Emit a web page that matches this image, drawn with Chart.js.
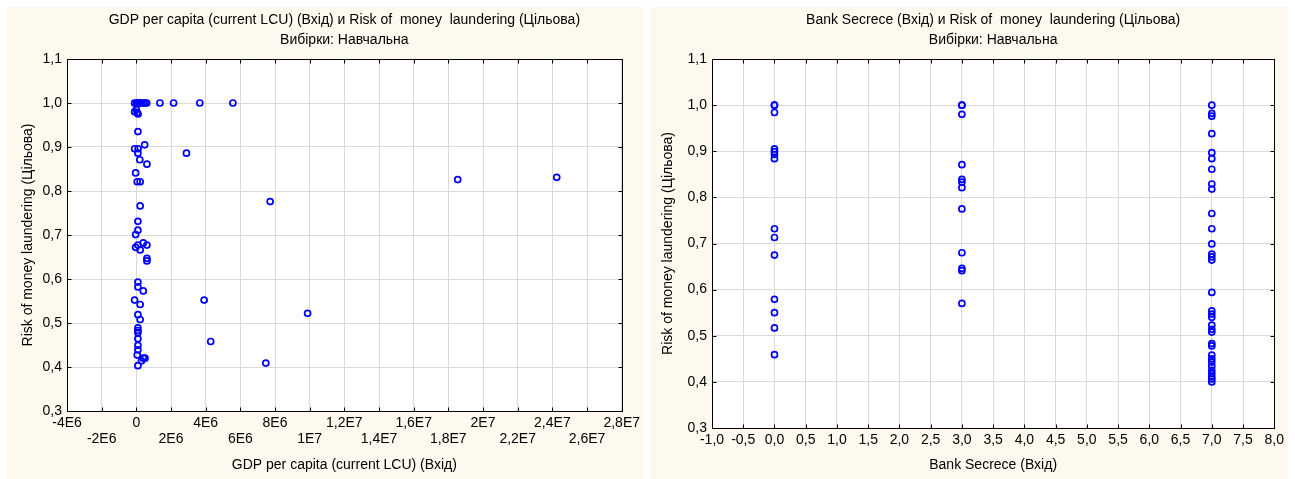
<!DOCTYPE html>
<html>
<head>
<meta charset="utf-8">
<script src="https://cdn.jsdelivr.net/npm/chart.js@4.4.1/dist/chart.umd.min.js"></script>
<style>
  body { margin: 0; width: 1295px; height: 479px; background: #fff; position: relative; overflow: hidden; }
  .panel { position: absolute; top: 7px; width: 637px; height: 472px; background: #fdf9ee; }
</style>
</head>
<body>
<div class="panel" style="left:7px"><canvas id="gdpChart" width="637" height="472"></canvas></div>
<div class="panel" style="left:651px"><canvas id="bankChart" width="637" height="472"></canvas></div>
<script>
// Scatter: GDP per capita vs risk (left), bank secrecy vs risk (right)

const SUBTITLE = 'Вибірки: Навчальна';
const Y_LABEL = 'Risk of money laundering (Цільова)';

// GDP per capita (current LCU) — x values, paired with gdpRisk
const gdpValues = [
  -1e5, 0, 5e4, 1e5, 1.5e5, 2e5, 3e5, 4e5, 5e5, 6e5, 1.36e6, 2.15e6, 3.66e6, 5.57e6,
  0, -1e5, 5e4, 1e5, 9e4, 4.8e5, -1e5, 1e5, 9e4, 2.89e6, 2e5, 6.1e5, -4e4, 5e4, 2.2e5,
  1.854e7, 2.425e7, 7.72e6, 2.2e5, 9e4, 9e4, -4e4,
  -4e4, 9e4, 4e5, 2.2e5, 6.1e5, 6.1e5, 6.1e5,
  9e4, 9e4, 4e5, -1e5, 2.2e5, 3.91e6, 9e4, 2.2e5, 9.88e6,
  9e4, 9e4, 9e4, 9e4, 9e4, 9e4, 5e4, 4.29e6, 4e5, 5e5, 3e5, 9e4, 7.47e6
];
const gdpRisk = [
  1.0, 1.0, 1.0, 1.0, 1.0, 1.0, 1.0, 1.0, 1.0, 1.0, 1.0, 1.0, 1.0, 1.0,
  0.985, 0.98, 0.978, 0.975, 0.935, 0.905, 0.896, 0.896, 0.886, 0.886, 0.871, 0.861, 0.841, 0.821, 0.821,
  0.826, 0.831, 0.776, 0.766, 0.731, 0.711, 0.701,
  0.672, 0.677, 0.682, 0.666, 0.677, 0.647, 0.641,
  0.593, 0.582, 0.573, 0.552, 0.542, 0.552, 0.519, 0.508, 0.522,
  0.489, 0.483, 0.478, 0.464, 0.449, 0.439, 0.427, 0.458, 0.42, 0.42, 0.414, 0.403, 0.409
];

// Bank Secrece levels and the risk values observed at each level
const secrecyLevels = [0, 3, 7];
const riskAtZero = [1.0, 1.0, 0.984, 0.905, 0.899, 0.893, 0.884, 0.732, 0.713, 0.675, 0.579, 0.55, 0.517, 0.459];
const riskAtThree = [1.0, 1.0, 0.98, 0.871, 0.839, 0.833, 0.821, 0.775, 0.68, 0.646, 0.641, 0.57];
const riskAtSeven = [
  1.0, 0.982, 0.976, 0.938, 0.897, 0.884, 0.861, 0.829, 0.818, 0.765, 0.732, 0.699, 0.677, 0.671, 0.664,
  0.594, 0.554, 0.547, 0.54, 0.523, 0.514, 0.508, 0.483, 0.478, 0.458, 0.45, 0.443, 0.434, 0.425, 0.418,
  0.411, 0.406, 0.4
];

const FONT = { family: '"Liberation Sans", Arial, sans-serif', size: 14 };
const GRID = '#dadada';

// comma decimal like the original (1,0 / 0,5)
const comma = (v, d) => v.toFixed(d).replace('.', ',');

// 2E6, 1,2E7 style labels
function sci(v) {
  if (Math.abs(v) < 1e-9) return '0';
  const e = Math.floor(Math.log10(Math.abs(v)) + 1e-9);
  const m = Number((v / Math.pow(10, e)).toFixed(3));
  return String(m).replace('.', ',') + 'E' + e;
}

// white plot area, inward tick marks and a closed frame
const frame = {
  id: 'frame',
  beforeDraw(chart) {
    const { ctx, chartArea: a } = chart;
    ctx.save();
    ctx.fillStyle = '#fff';
    ctx.fillRect(a.left, a.top, a.right - a.left, a.bottom - a.top);
    ctx.restore();
  },
  afterDraw(chart) {
    const { ctx, chartArea: a, scales: { x, y } } = chart;
    const L = Math.round(a.left) + 0.5, R = Math.round(a.right) + 0.5;
    const T = Math.round(a.top) + 0.5, B = Math.round(a.bottom) + 0.5;
    ctx.save();
    ctx.strokeStyle = '#000';
    ctx.lineWidth = 1;
    ctx.beginPath();
    x.ticks.forEach(t => {
      const px = Math.round(x.getPixelForValue(t.value)) + 0.5;
      ctx.moveTo(px, B); ctx.lineTo(px, B - 4);
      ctx.moveTo(px, T); ctx.lineTo(px, T + 4);
    });
    y.ticks.forEach(t => {
      const py = Math.round(y.getPixelForValue(t.value)) + 0.5;
      ctx.moveTo(L, py); ctx.lineTo(L + 4, py);
      ctx.moveTo(R, py); ctx.lineTo(R - 4, py);
    });
    ctx.stroke();
    ctx.strokeRect(L, T, R - L, B - T);
    ctx.restore();
  }
};

function makeScatter(id, cfg) {
  const ctx = document.getElementById(id);
  return new Chart(ctx, {
    type: 'scatter',
    data: {
      datasets: [{
        data: cfg.points,
        borderColor: '#0000ff',
        backgroundColor: 'rgba(255,255,255,0)',
        borderWidth: 1.7,
        pointRadius: 3,
        pointHoverRadius: 3,
      }],
    },
    options: {
      responsive: false,
      animation: false,
      layout: { padding: { top: 0, left: 0, right: cfg.padRight, bottom: 0 } },
      plugins: {
        legend: { display: false },
        tooltip: { enabled: false },
        title: {
          display: true,
          fullSize: false,
          text: [cfg.title, SUBTITLE],
          color: '#000',
          font: { ...FONT, weight: 'normal', lineHeight: '20px' },
          padding: { top: 3, bottom: 9 },
        },
      },
      scales: {
        x: {
          type: 'linear',
          min: cfg.xMin, max: cfg.xMax,
          afterFit: s => { s.height = cfg.xHeight; },
          border: { display: false },
          grid: { color: GRID, drawTicks: false },
          ticks: {
            stepSize: cfg.xStep, autoSkip: false, maxRotation: 0, padding: 4,
            color: '#000', font: { ...FONT, lineHeight: '16px' },
            callback: cfg.xTick,
          },
          title: { display: true, text: cfg.xTitle, color: '#000', font: FONT, padding: { top: 0, bottom: 5 } },
        },
        y: {
          min: 0.3, max: 1.1,
          afterFit: s => { s.width = cfg.yWidth; },
          border: { display: false },
          grid: { color: GRID, drawTicks: false },
          ticks: { stepSize: 0.1, padding: 5, color: '#000', font: FONT, callback: v => comma(v, 1) },
          title: { display: true, text: Y_LABEL, color: '#000', font: FONT, padding: { top: cfg.yTitlePad, bottom: 0 } },
        },
      },
    },
    plugins: [frame],
  });
}

makeScatter('gdpChart', {
  title: 'GDP per capita (current LCU) (Вхід) и Risk of  money  laundering (Цільова)',
  xTitle: 'GDP per capita (current LCU) (Вхід)',
  points: gdpValues.map((v, i) => ({ x: v, y: gdpRisk[i] })),
  xMin: -4e6, xMax: 2.8e7, xStep: 2e6,
  xTick: (v, i) => (i % 2 === 0 ? [sci(v)] : ['', sci(v)]),
  xHeight: 68, yWidth: 60, padRight: 22, yTitlePad: 13,
});

const bankPoints = [];
[riskAtZero, riskAtThree, riskAtSeven].forEach((list, k) => {
  list.forEach(r => bankPoints.push({ x: secrecyLevels[k], y: r }));
});

makeScatter('bankChart', {
  title: 'Bank Secrece (Вхід) и Risk of  money  laundering (Цільова)',
  xTitle: 'Bank Secrece (Вхід)',
  points: bankPoints,
  xMin: -1, xMax: 8, xStep: 0.5,
  xTick: v => comma(v, 1),
  xHeight: 51, yWidth: 61, padRight: 9, yTitlePad: 9,
});
</script>
</body>
</html>
